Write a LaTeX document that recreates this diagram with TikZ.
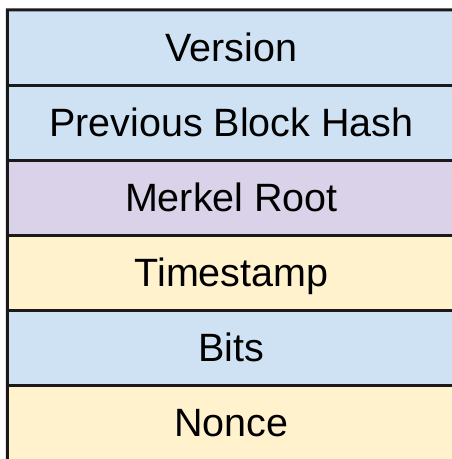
\documentclass[tikz,border=0pt]{standalone}
\usepackage{fontspec}
\setmainfont{Liberation Sans}
\definecolor{fieldblue}{HTML}{CFE2F3}
\definecolor{fieldpurple}{HTML}{D9D2E9}
\definecolor{fieldyellow}{HTML}{FFF2CC}
\definecolor{rule}{HTML}{1A1A1A}
\tikzset{
  field/.style={fill=#1, rectangle, inner sep=0pt,
    minimum width=460pt, minimum height=75pt,
    text height=28.3pt, text depth=0pt,
    font=\fontsize{39.5}{44}\selectfont, text=black},
  rulefield/.style={draw=rule, line width=3pt, line cap=rect}
}
\begin{document}
\begin{tikzpicture}[x=1pt, y=-1pt]
  \useasboundingbox (0,0) rectangle (451,459);
  % block header fields, stacked top to bottom; they run past the right and bottom edges
  \node[field=fieldblue]   (version)   at (237.5, 47.5)  {};
  \node[field=fieldblue]   (prevhash)  at (237.5, 122.5) {};
  \node[field=fieldpurple] (merkle)    at (237.5, 197.5) {};
  \node[field=fieldyellow] (timestamp) at (237.5, 272.5) {};
  \node[field=fieldblue]   (bits)      at (237.5, 347.5) {};
  \node[field=fieldyellow, minimum height=80pt] (nonce) at (237.5, 425) {};
  % frame: top, left and the rules between fields
  \draw[rulefield] (version.north east) -- (version.north west) -- (7.5,470);
  \foreach \a/\b in {version/prevhash, prevhash/merkle, merkle/timestamp,
      timestamp/bits, bits/nonce}
    \draw[rulefield] (\a.south west) -- (\a.south east);
  % field names, centred on the visible width
  \foreach \n/\t in {version/Version, prevhash/Previous Block Hash,
      merkle/Merkel Root, timestamp/Timestamp, bits/Bits}
    \node[font=\fontsize{39.5}{44}\selectfont, text height=28.3pt, text depth=0pt,
      inner sep=0pt] at ([xshift=-6pt]\n.center) {\t};
  \node[font=\fontsize{39.5}{44}\selectfont, text height=28.3pt, text depth=0pt,
    inner sep=0pt] at (231.5, 422.5) {Nonce};
\end{tikzpicture}
\end{document}
